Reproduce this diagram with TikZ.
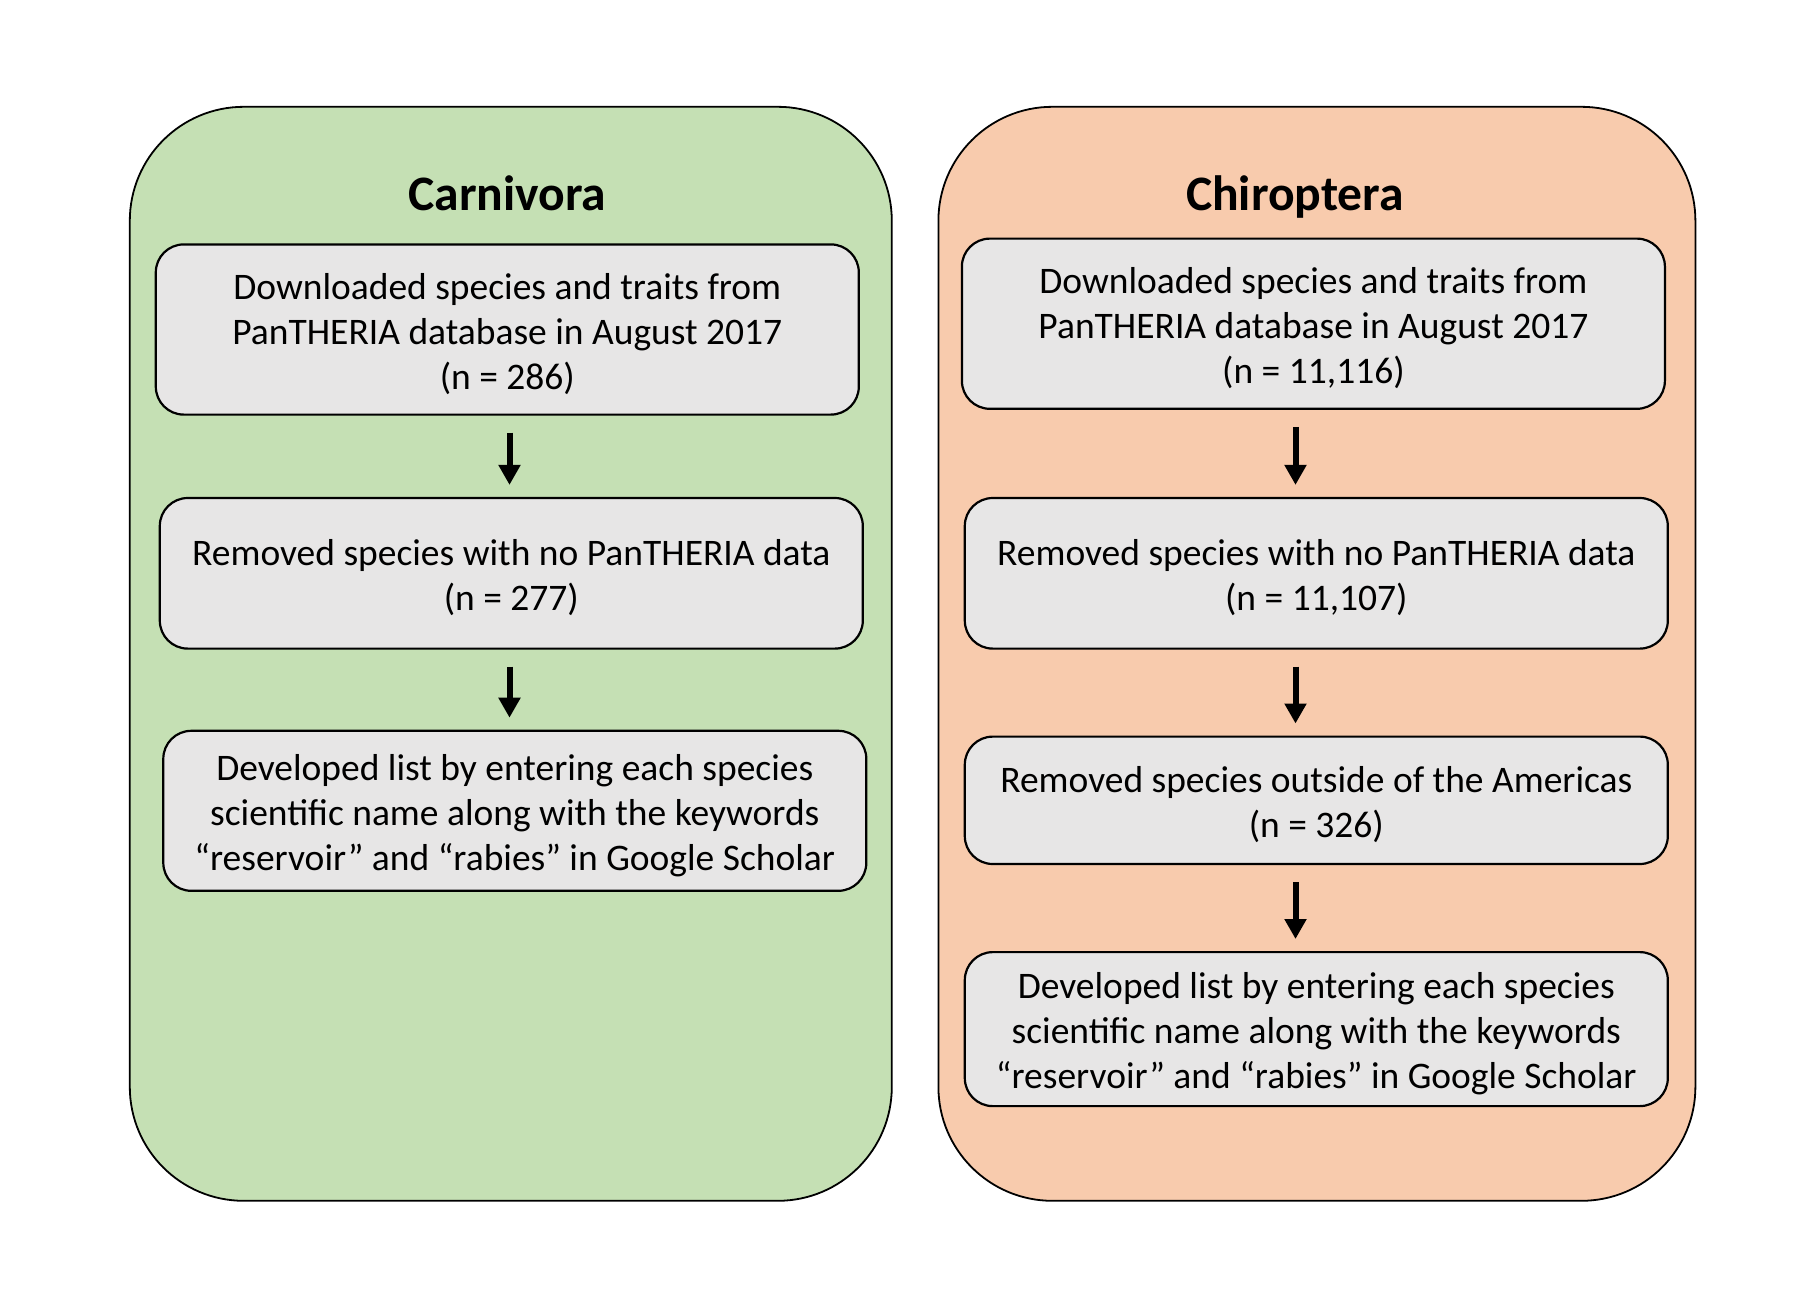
\documentclass[tikz,border=0pt]{standalone}
\usepackage{fontspec}
\setmainfont{Carlito}
\usetikzlibrary{arrows.meta}
\definecolor{pgreen}{HTML}{C5E0B4}
\definecolor{porange}{HTML}{F8CBAD}
\definecolor{boxgray}{HTML}{E7E6E6}
\newcommand{\topgap}{\rule{0pt}{17.5pt}}
\begin{document}
\begin{tikzpicture}[x=0.5pt,y=-0.5pt,
  panel/.style={draw=black, line width=0.9pt, rounded corners=57pt, inner sep=0pt, minimum width=381pt, minimum height=547pt},
  stepbox/.style={draw=black, line width=1.1pt, rounded corners=14pt, fill=boxgray, align=center, inner sep=0pt, minimum width=351.5pt, font=\fontsize{18.75}{22.5}\selectfont},
  title/.style={font=\fontsize{24.8}{28}\selectfont\bfseries, anchor=base, inner sep=0pt},
  arr/.style={-{Triangle[length=10pt,width=10.5pt]}, line width=3pt, shorten <=8.5pt, shorten >=6pt}]
\useasboundingbox (0,0) rectangle (1816,1308);
\fill[white] (0,0) rectangle (1816,1308);
% panels
\node[panel, fill=pgreen] (lpanel) at (510.8,653.8) {};
\node[panel, fill=porange, minimum width=378.5pt] (rpanel) at (1316.9,653.8) {};
% titles
\node[title] (lt) at (507.3,210.5) {Carnivora};
\node[title] (rt) at (1294.9,210.5) {Chiroptera};
% arrow axes
\coordinate (la) at (509.5,0);
\coordinate (ra) at (1295.5,0);
% left boxes
\node[stepbox, minimum height=85.1pt] (l1) at (507.3,329.5) {\topgap Downloaded species and traits from\\PanTHERIA database in August 2017\\(n = 286)};
\node[stepbox, minimum height=75.3pt] (l2) at (511.3,573.3) {\topgap Removed species with no PanTHERIA data\\(n = 277)};
\node[stepbox, minimum height=80pt] (l3) at (514.8,810.8) {\topgap Developed list by entering each species\\scientific name along with the keywords\\“reservoir” and “rabies” in Google Scholar};
% right boxes
\node[stepbox, minimum height=85.1pt] (r1) at (1313.4,323.7) {\topgap Downloaded species and traits from\\PanTHERIA database in August 2017\\(n = 11,116)};
\node[stepbox, minimum height=75.3pt] (r2) at (1316.3,573.3) {\topgap Removed species with no PanTHERIA data\\(n = 11,107)};
\node[stepbox, minimum height=63.7pt] (r3) at (1316.3,800.3) {\topgap Removed species outside of the Americas\\(n = 326)};
\node[stepbox, minimum height=77pt] (r4) at (1316.3,1029.1) {\topgap Developed list by entering each species\\scientific name along with the keywords\\“reservoir” and “rabies” in Google Scholar};
% arrows
\draw[arr] (l1.south -| la) -- (l2.north -| la);
\draw[arr] (l2.south -| la) -- (l3.north -| la);
\draw[arr] (r1.south -| ra) -- (r2.north -| ra);
\draw[arr] (r2.south -| ra) -- (r3.north -| ra);
\draw[arr] (r3.south -| ra) -- (r4.north -| ra);
\end{tikzpicture}
\end{document}
